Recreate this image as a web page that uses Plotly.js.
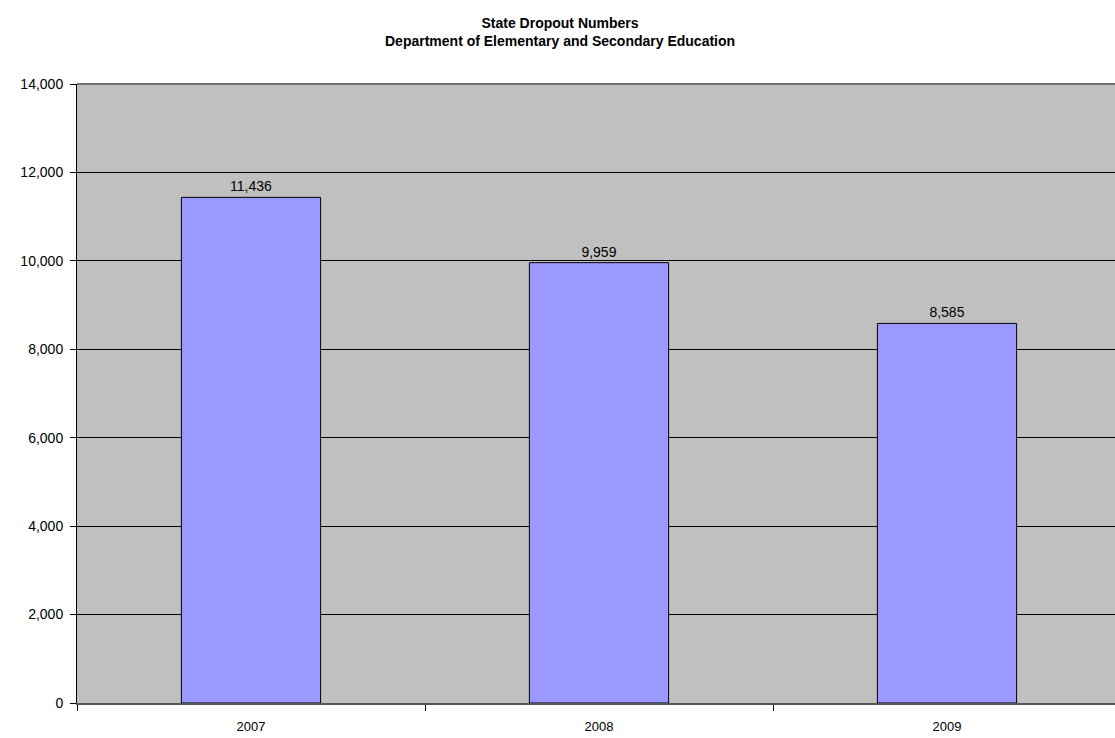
<!DOCTYPE html>
<html><head><meta charset="utf-8">
<script src="https://cdn.plot.ly/plotly-3.0.1.min.js"></script>
<style>html,body{margin:0;padding:0;overflow:hidden;background:#fff}</style>
</head><body><div id="chart"></div>
<script>
var years = ['2007', '2008', '2009'];
var dropouts = [11436, 9959, 8585];
var yTicks = [0, 2000, 4000, 6000, 8000, 10000, 12000, 14000];

Plotly.newPlot('chart', [{
  type: 'bar',
  x: years,
  y: dropouts,
  marker: {color: '#9999FF', line: {color: '#000000', width: 1}},
  texttemplate: '%{y:,}',
  textposition: 'outside',
  textfont: {family: 'Liberation Sans, Arial, sans-serif', size: 14, color: '#000'},
  cliponaxis: false,
  hoverinfo: 'none'
}], {
  width: 1121, height: 738,
  margin: {l: 77, r: 0, t: 84, b: 35},
  paper_bgcolor: '#ffffff',
  plot_bgcolor: '#C0C0C0',
  bargap: 0.6,
  showlegend: false,
  font: {family: 'Liberation Sans, Arial, sans-serif', size: 13, color: '#000'},
  title: {
    text: '<b>State Dropout Numbers<br>Department of Elementary and Secondary Education</b>',
    font: {family: 'Liberation Sans, Arial, sans-serif', size: 14, color: '#000'},
    x: 0.4996, xref: 'container', xanchor: 'center', y: 0.962, yanchor: 'middle'
  },
  xaxis: {
    type: 'category',
    tickson: 'boundaries',
    ticks: 'outside', ticklen: 6, tickcolor: '#000',
    showline: true, linecolor: '#555', linewidth: 2,
    showgrid: false,
    ticklabelstandoff: 10,
    tickfont: {size: 13}
  },
  yaxis: {
    range: [0, 14000],
    tickvals: yTicks,
    tickformat: ',d',
    ticks: 'outside', ticklen: 6, tickcolor: '#000',
    showline: true, linecolor: '#000', linewidth: 1,
    showgrid: true, gridcolor: '#000', gridwidth: 1,
    zeroline: false,
    ticklabelstandoff: 4,
    tickfont: {size: 14}
  },
  shapes: [{type: 'line', xref: 'paper', yref: 'paper', x0: 0, x1: 1, y0: 1, y1: 1,
            line: {color: '#6e6e6e', width: 2}}]
}, {displayModeBar: false, staticPlot: true});
</script></body></html>
